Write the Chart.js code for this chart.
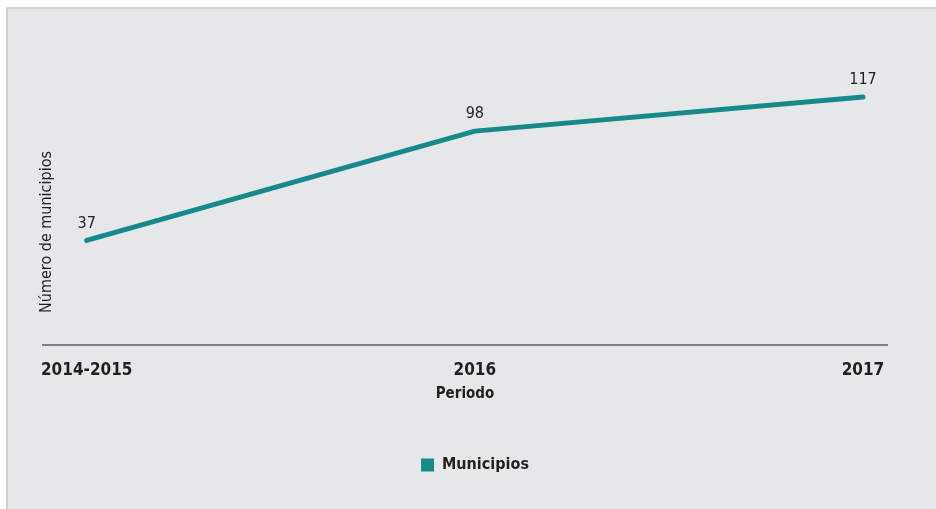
<!DOCTYPE html>
<html>
<head>
<meta charset="utf-8">
<script src="https://cdn.jsdelivr.net/npm/chart.js@4/dist/chart.umd.min.js"></script>
<style>
  body { margin: 0; background: #ffffff; }
  #wrap { position: relative; width: 936px; height: 509px; }
  #panel { position: absolute; left: 6px; top: 7px; right: 0; bottom: 0;
           background: #e6e7e8; border-left: 2px solid #d1d2d4; border-top: 2px solid #d1d2d4; }
  #myChart { position: absolute; left: 0; top: 0; }
</style>
</head>
<body>
<div id="wrap">
  <div id="panel"></div>
  <canvas id="myChart" width="936" height="509"></canvas>
</div>
<script>
var periodos = ["2014-2015", "2016", "2017"];
var municipios = [37, 98, 117];
var serieLabel = "Municipios";
var yTitle = "Número de municipios";
var xTitle = "Periodo";

var fuente = "'DejaVu Sans Condensed', 'Liberation Sans Narrow', sans-serif";
var teal = "#17898a";

// etiquetas de valor encima de cada punto
var valueLabels = {
  id: "valueLabels",
  afterDatasetsDraw: function (chart) {
    var ctx = chart.ctx;
    var meta = chart.getDatasetMeta(0);
    ctx.save();
    ctx.font = "16px " + fuente;
    ctx.fillStyle = "#231f20";
    ctx.textAlign = "center";
    ctx.textBaseline = "bottom";
    meta.data.forEach(function (pt, i) {
      ctx.fillText(municipios[i], pt.x, pt.y - 9);
    });
    ctx.restore();
  },
};

// titulo vertical del eje y
var yTitlePlugin = {
  id: "yTitlePlugin",
  afterDraw: function (chart) {
    var ctx = chart.ctx;
    ctx.save();
    ctx.translate(47, 232);
    ctx.rotate(-Math.PI / 2);
    ctx.font = "16px " + fuente;
    ctx.fillStyle = "#231f20";
    ctx.textAlign = "center";
    ctx.textBaseline = "middle";
    ctx.fillText(yTitle, 0, 0);
    ctx.restore();
  },
};

// la leyenda va un poco a la derecha del centro
var moverLeyenda = {
  id: "moverLeyenda",
  afterLayout: function (chart) {
    chart.legend.left += 10;
    chart.legend.right += 10;
  },
};

var chartdata = {
  datasets: [
    {
      label: serieLabel,
      data: periodos.map(function (p, i) {
        return { x: i, y: municipios[i] };
      }),
      borderColor: teal,
      backgroundColor: teal,
      borderWidth: 5,
      borderCapStyle: "round",
      borderJoinStyle: "round",
      pointRadius: 0,
      pointHoverRadius: 0,
      tension: 0,
    },
  ],
};

var chart = new Chart(document.getElementById("myChart"), {
  type: "line",
  data: chartdata,
  options: {
    responsive: false,
    animation: false,
    layout: {
      padding: { left: 43, right: 49, top: 20, bottom: 26 },
    },
    plugins: {
      legend: {
        position: "bottom",
        labels: {
          boxWidth: 13,
          boxHeight: 13,
          padding: 54,
          color: "#231f20",
          font: { family: fuente, size: 16, weight: "bold" },
          generateLabels: function (c) {
            var items = Chart.defaults.plugins.legend.labels.generateLabels(c);
            items.forEach(function (it) {
              it.lineWidth = 0;
            });
            return items;
          },
        },
      },
      tooltip: { enabled: false },
    },
    scales: {
      x: {
        type: "linear",
        min: -0.1126,
        max: 2.0619,
        afterBuildTicks: function (scale) {
          scale.ticks = periodos.map(function (p, i) {
            return { value: i };
          });
        },
        grid: { display: false, drawTicks: false },
        border: { display: true, color: "#808080", width: 2 },
        ticks: {
          padding: 16,
          color: "#231f20",
          font: { family: fuente, size: 17, weight: "bold" },
          maxRotation: 0,
          autoSkip: false,
          callback: function (v) {
            return periodos[v];
          },
        },
        title: {
          display: true,
          text: xTitle,
          color: "#231f20",
          padding: { top: -12, bottom: 0 },
          font: { family: fuente, size: 15, weight: "bold" },
        },
      },
      y: {
        display: false,
        min: -21.1,
        max: 160,
      },
    },
  },
  plugins: [valueLabels, yTitlePlugin, moverLeyenda],
});
</script>
</body>
</html>
